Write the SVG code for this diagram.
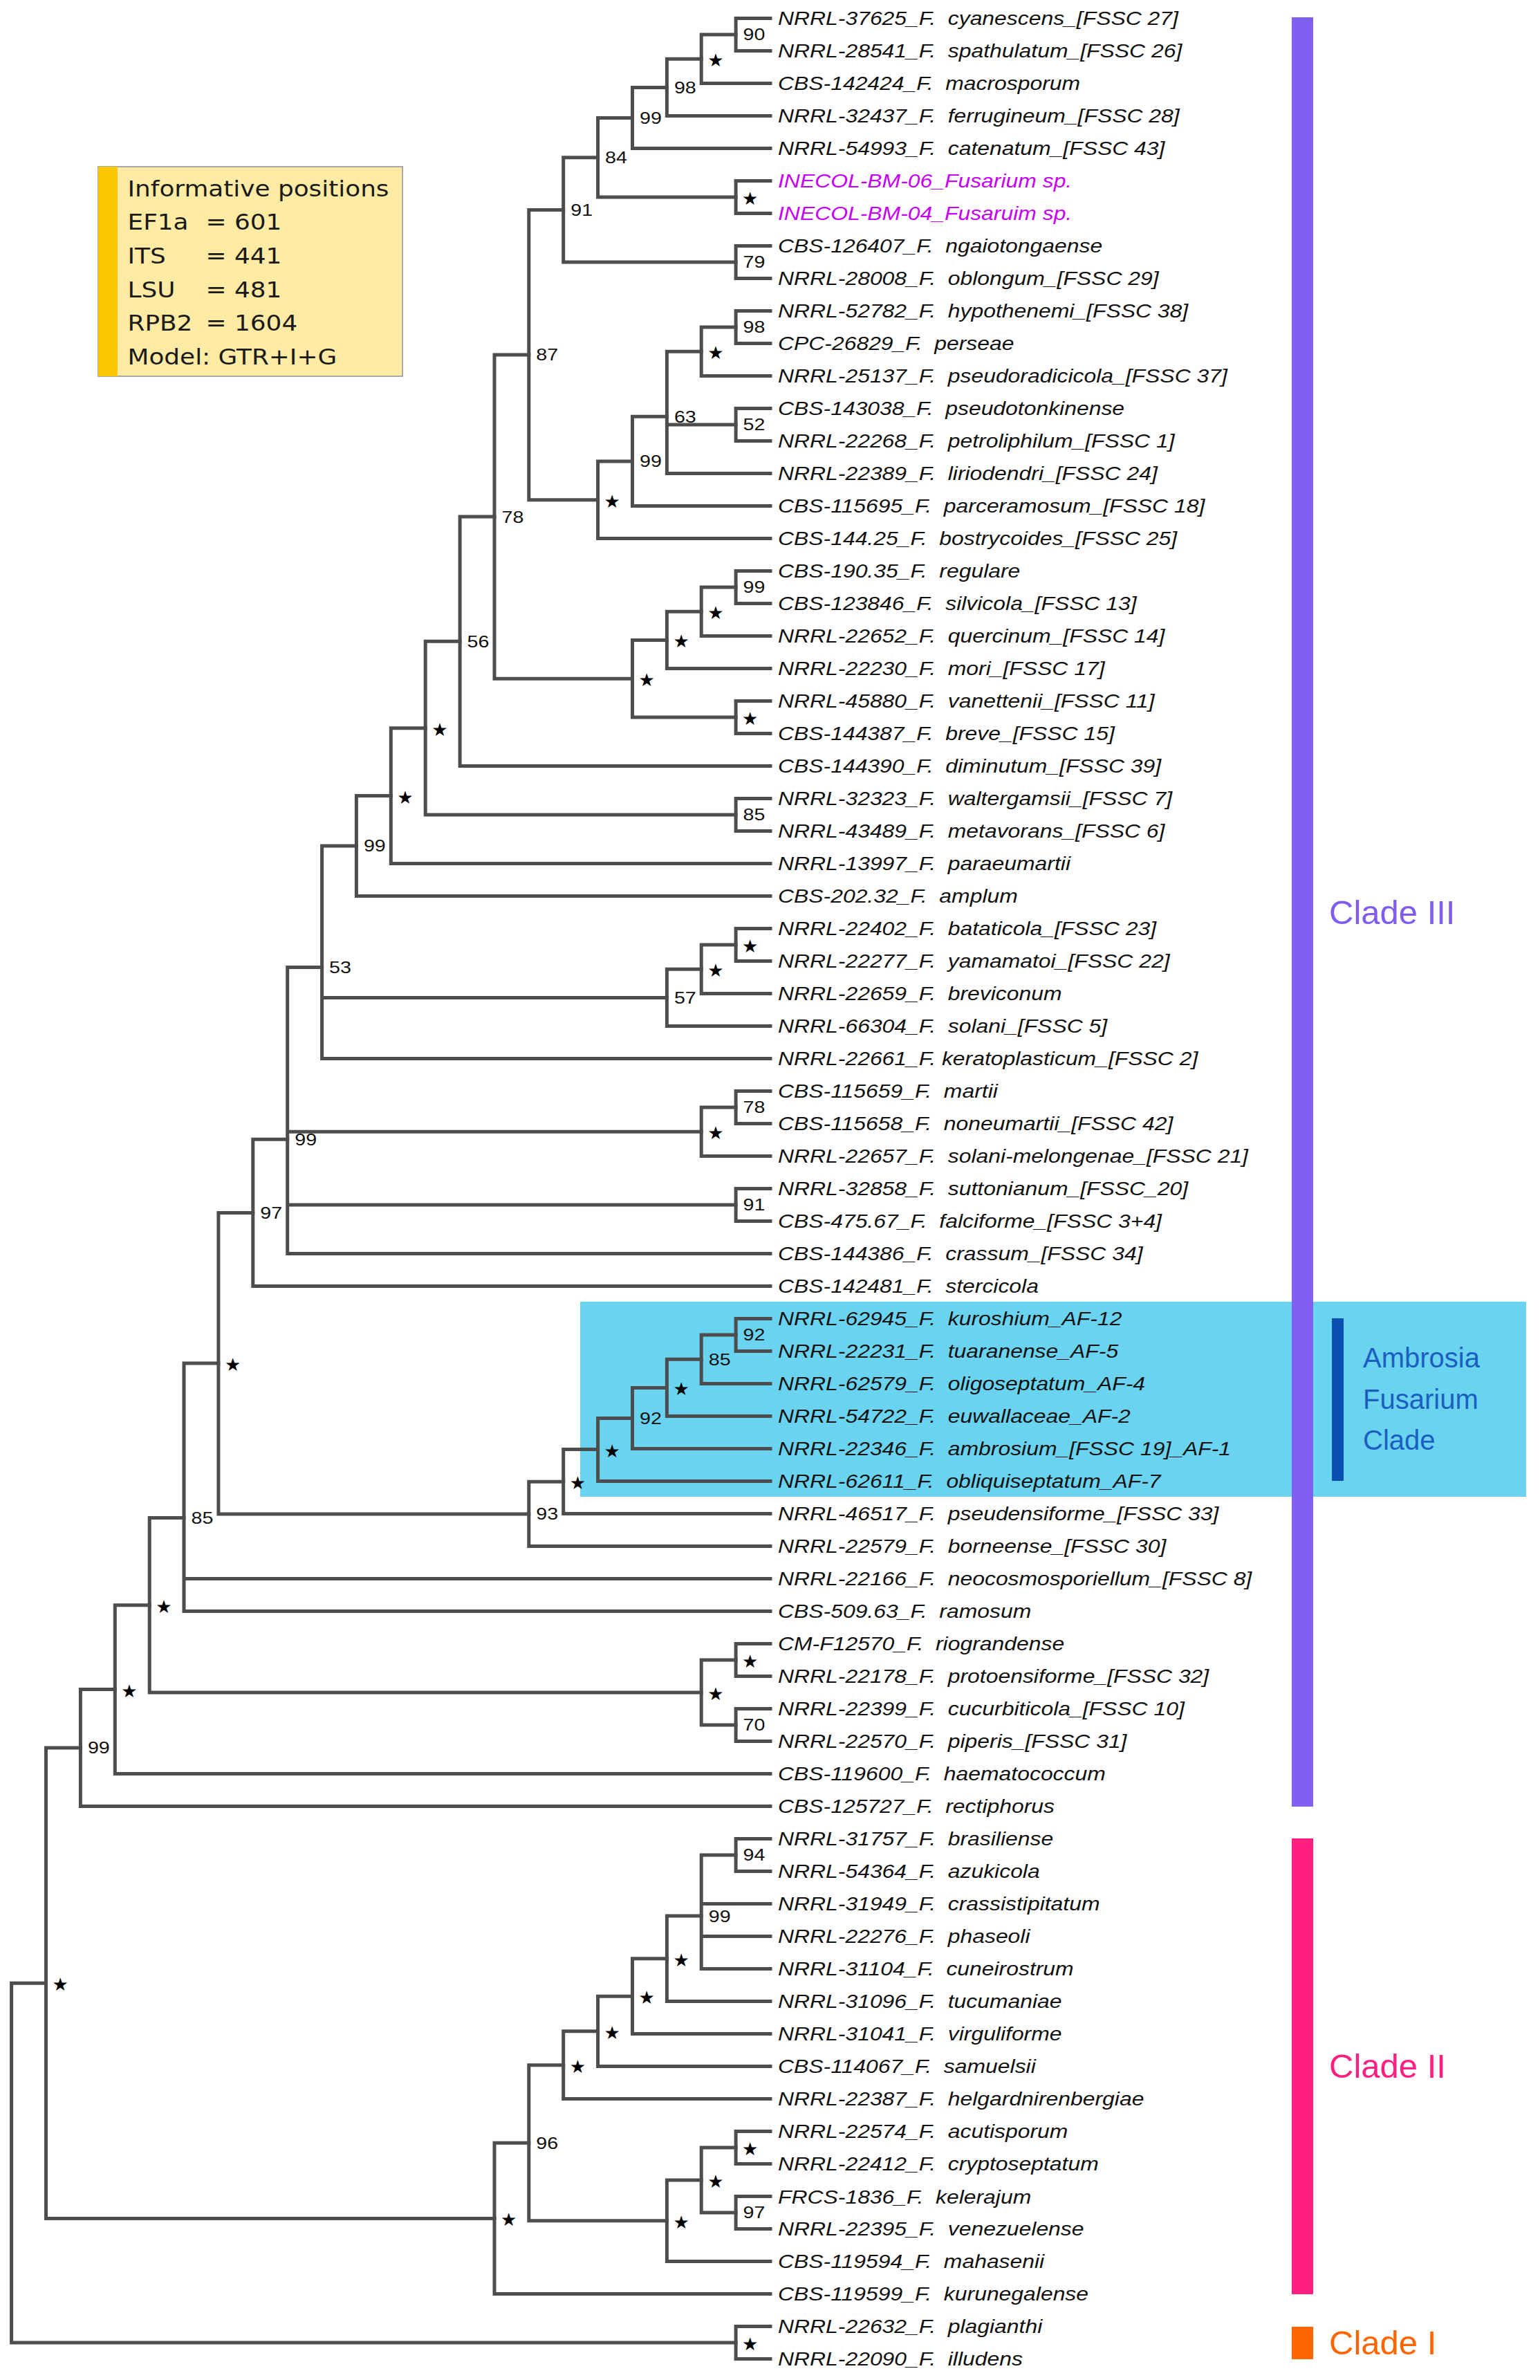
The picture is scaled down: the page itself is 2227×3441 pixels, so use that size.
<svg xmlns="http://www.w3.org/2000/svg" width="2227" height="3441" viewBox="0 0 2227 3441">
<style>
.br{fill:none;stroke:#4d4d4d;stroke-width:5;stroke-linecap:square;stroke-linejoin:miter}
.lf{font-family:"Liberation Sans",Arial,sans-serif;font-style:italic;font-size:27.5px;fill:#111}
.ine{fill:#c600f5}
.bs{font-family:"Liberation Sans",Arial,sans-serif;font-size:23.5px;fill:#111}
.st{font-family:"DejaVu Sans",sans-serif;font-size:26px;fill:#000}
.lg{font-family:"DejaVu Sans",sans-serif;font-size:32px;fill:#1a1a1a}
.cl{font-family:"Liberation Sans",Arial,sans-serif;font-size:49px}
.af{font-family:"Liberation Sans",Arial,sans-serif;font-size:40px;fill:#1a5fc0}
</style>
<rect x="0" y="0" width="2227" height="3441" fill="#ffffff"/>
<g id="ambrosia-highlight">
<rect x="839" y="1882" width="1368" height="282" fill="#6ad3f0"/>
</g>
<g id="legend">
<rect x="142" y="241" width="440" height="303" fill="#ffeba3" stroke="#a8a8a8" stroke-width="2"/>
<rect x="142" y="241" width="28" height="303" fill="#fcc600"/>
<g class="lg" transform="translate(184.5 0) scale(1.12 1)">
<text x="0" y="284">Informative positions</text>
<text x="0" y="332">EF1a</text><text x="101" y="332">= 601</text>
<text x="0" y="381">ITS</text><text x="101" y="381">= 441</text>
<text x="0" y="430">LSU</text><text x="101" y="430">= 481</text>
<text x="0" y="478">RPB2</text><text x="101" y="478">= 1604</text>
<text x="0" y="527">Model: GTR+I+G</text>
</g>
</g>
<g id="connectors" class="br">
<path d="M1114 26.5H1064.1V73.5H1114"/>
<path d="M1064.1 50H1014.2V120.5H1114"/>
<path d="M1014.2 85.25H964.4V167.5H1114"/>
<path d="M964.4 126.4H914.5V214.5H1114"/>
<path d="M1114 261.5H1064.1V308.5H1114"/>
<path d="M914.5 170.4H864.6V285H1064.1"/>
<path d="M1114 355.5H1064.1V402.5H1114"/>
<path d="M864.6 227.7H814.7V379H1064.1"/>
<path d="M1114 449.5H1064.1V496.5H1114"/>
<path d="M1064.1 473H1014.2V543.5H1114"/>
<path d="M1114 590.5H1064.1V637.5H1114"/>
<path d="M1014.2 508.25H964.4V684.5H1114M964.4 614H1064.1"/>
<path d="M964.4 602.25H914.5V731.5H1114"/>
<path d="M914.5 666.9H864.6V778.5H1114"/>
<path d="M814.7 303.4H764.8V722.7H864.6"/>
<path d="M1114 825.5H1064.1V872.5H1114"/>
<path d="M1064.1 849H1014.2V919.5H1114"/>
<path d="M1014.2 884.25H964.4V966.5H1114"/>
<path d="M1114 1013.5H1064.1V1060.5H1114"/>
<path d="M964.4 925.4H914.5V1037H1064.1"/>
<path d="M764.8 513H715V981.2H914.5"/>
<path d="M715 747.1H665.1V1107.5H1114"/>
<path d="M1114 1154.5H1064.1V1201.5H1114"/>
<path d="M665.1 927.3H615.2V1178H1064.1"/>
<path d="M615.2 1052.7H565.3V1248.5H1114"/>
<path d="M565.3 1150.6H515.4V1295.5H1114"/>
<path d="M1114 1342.5H1064.1V1389.5H1114"/>
<path d="M1064.1 1366H1014.2V1436.5H1114"/>
<path d="M1014.2 1401.25H964.4V1483.5H1114"/>
<path d="M515.4 1223H465.6V1530.5H1114M465.6 1442.4H964.4"/>
<path d="M1114 1577.5H1064.1V1624.5H1114"/>
<path d="M1064.1 1601H1014.2V1671.5H1114"/>
<path d="M1114 1718.5H1064.1V1765.5H1114"/>
<path d="M465.6 1398.6H415.7V1812.5H1114M415.7 1636.25H1014.2M415.7 1742H1064.1"/>
<path d="M415.7 1647.3H365.8V1859.5H1114"/>
<path d="M1114 1906.5H1064.1V1953.5H1114"/>
<path d="M1064.1 1930H1014.2V2000.5H1114"/>
<path d="M1014.2 1965.25H964.4V2047.5H1114"/>
<path d="M964.4 2006.4H914.5V2094.5H1114"/>
<path d="M914.5 2050.4H864.6V2141.5H1114"/>
<path d="M864.6 2095.5H814.7V2188.5H1114"/>
<path d="M814.7 2142.2H764.8V2235.5H1114"/>
<path d="M365.8 1753.4H315.9V2188.9H764.8"/>
<path d="M315.9 1971.1H266V2329.5H1114M266 2282.5H1114"/>
<path d="M1114 2376.5H1064.1V2423.5H1114"/>
<path d="M1114 2470.5H1064.1V2517.5H1114"/>
<path d="M1064.1 2400H1014.2V2494H1064.1"/>
<path d="M266 2194.4H216.2V2447H1014.2"/>
<path d="M216.2 2320.7H166.3V2564.5H1114"/>
<path d="M166.3 2442.6H116.4V2611.5H1114"/>
<path d="M1114 2658.5H1064.1V2705.5H1114"/>
<path d="M1064.1 2682H1014.2V2846.5H1114M1014.2 2752.5H1114M1014.2 2799.5H1114"/>
<path d="M1014.2 2770.1H964.4V2893.5H1114"/>
<path d="M964.4 2831.8H914.5V2940.5H1114"/>
<path d="M914.5 2886.2H864.6V2987.5H1114"/>
<path d="M864.6 2936.8H814.7V3034.5H1114"/>
<path d="M1114 3081.5H1064.1V3128.5H1114"/>
<path d="M1114 3175.5H1064.1V3222.5H1114"/>
<path d="M1064.1 3105H1014.2V3199H1064.1"/>
<path d="M1014.2 3152H964.4V3269.5H1114"/>
<path d="M814.7 2985.7H764.8V3210.75H964.4"/>
<path d="M764.8 3098.2H715V3316.5H1114"/>
<path d="M116.4 2527H66.5V3207.4H715"/>
<path d="M1114 3363.5H1064.1V3410.5H1114"/>
<path d="M66.5 2867.2H16.6V3387H1064.1"/>
</g>
<g id="nodes">
<g id="n1"><text class="bs" transform="translate(1074.6 58.4) scale(1.22 1)">90</text></g>
<g id="n2"><text class="st" x="1023.2" y="96.25">★</text></g>
<g id="n3"><text class="bs" transform="translate(974.9 134.8) scale(1.22 1)">98</text></g>
<g id="n4"><text class="bs" transform="translate(925 178.8) scale(1.22 1)">99</text></g>
<g id="n5"><text class="st ine" x="1073.1" y="296">★</text></g>
<g id="n6"><text class="bs" transform="translate(875.1 236.1) scale(1.22 1)">84</text></g>
<g id="n7"><text class="bs" transform="translate(1074.6 387.4) scale(1.22 1)">79</text></g>
<g id="n8"><text class="bs" transform="translate(825.2 311.8) scale(1.22 1)">91</text></g>
<g id="n9"><text class="bs" transform="translate(1074.6 481.4) scale(1.22 1)">98</text></g>
<g id="n10"><text class="st" x="1023.2" y="519.25">★</text></g>
<g id="n11"><text class="bs" transform="translate(1074.6 622.4) scale(1.22 1)">52</text></g>
<g id="n12"><text class="bs" transform="translate(974.9 610.65) scale(1.22 1)">63</text></g>
<g id="n13"><text class="bs" transform="translate(925 675.3) scale(1.22 1)">99</text></g>
<g id="n14"><text class="st" x="873.6" y="733.7">★</text></g>
<g id="n15"><text class="bs" transform="translate(775.3 521.4) scale(1.22 1)">87</text></g>
<g id="n16"><text class="bs" transform="translate(1074.6 857.4) scale(1.22 1)">99</text></g>
<g id="n17"><text class="st" x="1023.2" y="895.25">★</text></g>
<g id="n18"><text class="st" x="973.4" y="936.4">★</text></g>
<g id="n19"><text class="st" x="1073.1" y="1048">★</text></g>
<g id="n20"><text class="st" x="923.5" y="992.2">★</text></g>
<g id="n21"><text class="bs" transform="translate(725.5 755.5) scale(1.22 1)">78</text></g>
<g id="n22"><text class="bs" transform="translate(675.6 935.7) scale(1.22 1)">56</text></g>
<g id="n23"><text class="bs" transform="translate(1074.6 1186.4) scale(1.22 1)">85</text></g>
<g id="n24"><text class="st" x="624.2" y="1063.7">★</text></g>
<g id="n25"><text class="st" x="574.3" y="1161.6">★</text></g>
<g id="n26"><text class="bs" transform="translate(525.9 1231.4) scale(1.22 1)">99</text></g>
<g id="n27"><text class="st" x="1073.1" y="1377">★</text></g>
<g id="n28"><text class="st" x="1023.2" y="1412.25">★</text></g>
<g id="n29"><text class="bs" transform="translate(974.9 1450.8) scale(1.22 1)">57</text></g>
<g id="n30"><text class="bs" transform="translate(476.1 1407) scale(1.22 1)">53</text></g>
<g id="n31"><text class="bs" transform="translate(1074.6 1609.4) scale(1.22 1)">78</text></g>
<g id="n32"><text class="st" x="1023.2" y="1647.25">★</text></g>
<g id="n33"><text class="bs" transform="translate(426.2 1655.7) scale(1.22 1)">99</text></g>
<g id="n34"><text class="bs" transform="translate(1074.6 1750.4) scale(1.22 1)">91</text></g>
<g id="n35"><text class="bs" transform="translate(376.3 1761.8) scale(1.22 1)">97</text></g>
<g id="a1"><text class="bs" transform="translate(1074.6 1938.4) scale(1.22 1)">92</text></g>
<g id="a2"><text class="bs" transform="translate(1024.7 1973.65) scale(1.22 1)">85</text></g>
<g id="a3"><text class="st" x="973.4" y="2017.4">★</text></g>
<g id="a4"><text class="bs" transform="translate(925 2058.8) scale(1.22 1)">92</text></g>
<g id="a5"><text class="st" x="873.6" y="2106.5">★</text></g>
<g id="a6"><text class="st" x="823.7" y="2153.2">★</text></g>
<g id="a7"><text class="bs" transform="translate(775.3 2197.3) scale(1.22 1)">93</text></g>
<g id="n36"><text class="st" x="324.9" y="1982.1">★</text></g>
<g id="n37"><text class="bs" transform="translate(276.5 2202.8) scale(1.22 1)">85</text></g>
<g id="n39a"><text class="st" x="1073.1" y="2411">★</text></g>
<g id="n39b"><text class="bs" transform="translate(1074.6 2502.4) scale(1.22 1)">70</text></g>
<g id="n39"><text class="st" x="1023.2" y="2458">★</text></g>
<g id="n38"><text class="st" x="225.2" y="2331.7">★</text></g>
<g id="n40"><text class="st" x="175.3" y="2453.6">★</text></g>
<g id="n41"><text class="bs" transform="translate(126.9 2535.4) scale(1.22 1)">99</text></g>
<g id="c1"><text class="bs" transform="translate(1074.6 2690.4) scale(1.22 1)">94</text></g>
<g id="c2"><text class="bs" transform="translate(1024.7 2778.5) scale(1.22 1)">99</text></g>
<g id="c3"><text class="st" x="973.4" y="2842.8">★</text></g>
<g id="c4"><text class="st" x="923.5" y="2897.2">★</text></g>
<g id="c5"><text class="st" x="873.6" y="2947.8">★</text></g>
<g id="c6"><text class="st" x="823.7" y="2996.7">★</text></g>
<g id="d1"><text class="st" x="1073.1" y="3116">★</text></g>
<g id="d2"><text class="bs" transform="translate(1074.6 3207.4) scale(1.22 1)">97</text></g>
<g id="d3"><text class="st" x="1023.2" y="3163">★</text></g>
<g id="d4"><text class="st" x="973.4" y="3221.75">★</text></g>
<g id="c7"><text class="bs" transform="translate(775.3 3106.6) scale(1.22 1)">96</text></g>
<g id="c8"><text class="st" x="724" y="3218.4">★</text></g>
<g id="clade23"><text class="st" x="75.5" y="2878.2">★</text></g>
<g id="clade1-node"><text class="st" x="1073.1" y="3398">★</text></g>
</g>
<g id="leaves" class="lf" transform="translate(1125 0) scale(1.16 1)">
<g id="leaf-00"><text y="36.5">NRRL-37625_F.&#160;&#160;cyanescens_[FSSC 27]</text></g>
<g id="leaf-01"><text y="83.5">NRRL-28541_F.&#160;&#160;spathulatum_[FSSC 26]</text></g>
<g id="leaf-02"><text y="130.5">CBS-142424_F.&#160;&#160;macrosporum</text></g>
<g id="leaf-03"><text y="177.5">NRRL-32437_F.&#160;&#160;ferrugineum_[FSSC 28]</text></g>
<g id="leaf-04"><text y="224.5">NRRL-54993_F.&#160;&#160;catenatum_[FSSC 43]</text></g>
<g id="leaf-05"><text class="ine" y="271.5">INECOL-BM-06_Fusarium sp.</text></g>
<g id="leaf-06"><text class="ine" y="318.5">INECOL-BM-04_Fusaruim sp.</text></g>
<g id="leaf-07"><text y="365.5">CBS-126407_F.&#160;&#160;ngaiotongaense</text></g>
<g id="leaf-08"><text y="412.5">NRRL-28008_F.&#160;&#160;oblongum_[FSSC 29]</text></g>
<g id="leaf-09"><text y="459.5">NRRL-52782_F.&#160;&#160;hypothenemi_[FSSC 38]</text></g>
<g id="leaf-10"><text y="506.5">CPC-26829_F.&#160;&#160;perseae</text></g>
<g id="leaf-11"><text y="553.5">NRRL-25137_F.&#160;&#160;pseudoradicicola_[FSSC 37]</text></g>
<g id="leaf-12"><text y="600.5">CBS-143038_F.&#160;&#160;pseudotonkinense</text></g>
<g id="leaf-13"><text y="647.5">NRRL-22268_F.&#160;&#160;petroliphilum_[FSSC 1]</text></g>
<g id="leaf-14"><text y="694.5">NRRL-22389_F.&#160;&#160;liriodendri_[FSSC 24]</text></g>
<g id="leaf-15"><text y="741.5">CBS-115695_F.&#160;&#160;parceramosum_[FSSC 18]</text></g>
<g id="leaf-16"><text y="788.5">CBS-144.25_F.&#160;&#160;bostrycoides_[FSSC 25]</text></g>
<g id="leaf-17"><text y="835.5">CBS-190.35_F.&#160;&#160;regulare</text></g>
<g id="leaf-18"><text y="882.5">CBS-123846_F.&#160;&#160;silvicola_[FSSC 13]</text></g>
<g id="leaf-19"><text y="929.5">NRRL-22652_F.&#160;&#160;quercinum_[FSSC 14]</text></g>
<g id="leaf-20"><text y="976.5">NRRL-22230_F.&#160;&#160;mori_[FSSC 17]</text></g>
<g id="leaf-21"><text y="1023.5">NRRL-45880_F.&#160;&#160;vanettenii_[FSSC 11]</text></g>
<g id="leaf-22"><text y="1070.5">CBS-144387_F.&#160;&#160;breve_[FSSC 15]</text></g>
<g id="leaf-23"><text y="1117.5">CBS-144390_F.&#160;&#160;diminutum_[FSSC 39]</text></g>
<g id="leaf-24"><text y="1164.5">NRRL-32323_F.&#160;&#160;waltergamsii_[FSSC 7]</text></g>
<g id="leaf-25"><text y="1211.5">NRRL-43489_F.&#160;&#160;metavorans_[FSSC 6]</text></g>
<g id="leaf-26"><text y="1258.5">NRRL-13997_F.&#160;&#160;paraeumartii</text></g>
<g id="leaf-27"><text y="1305.5">CBS-202.32_F.&#160;&#160;amplum</text></g>
<g id="leaf-28"><text y="1352.5">NRRL-22402_F.&#160;&#160;bataticola_[FSSC 23]</text></g>
<g id="leaf-29"><text y="1399.5">NRRL-22277_F.&#160;&#160;yamamatoi_[FSSC 22]</text></g>
<g id="leaf-30"><text y="1446.5">NRRL-22659_F.&#160;&#160;breviconum</text></g>
<g id="leaf-31"><text y="1493.5">NRRL-66304_F.&#160;&#160;solani_[FSSC 5]</text></g>
<g id="leaf-32"><text y="1540.5">NRRL-22661_F. keratoplasticum_[FSSC 2]</text></g>
<g id="leaf-33"><text y="1587.5">CBS-115659_F.&#160;&#160;martii</text></g>
<g id="leaf-34"><text y="1634.5">CBS-115658_F.&#160;&#160;noneumartii_[FSSC 42]</text></g>
<g id="leaf-35"><text y="1681.5">NRRL-22657_F.&#160;&#160;solani-melongenae_[FSSC 21]</text></g>
<g id="leaf-36"><text y="1728.5">NRRL-32858_F.&#160;&#160;suttonianum_[FSSC_20]</text></g>
<g id="leaf-37"><text y="1775.5">CBS-475.67_F.&#160;&#160;falciforme_[FSSC 3+4]</text></g>
<g id="leaf-38"><text y="1822.5">CBS-144386_F.&#160;&#160;crassum_[FSSC 34]</text></g>
<g id="leaf-39"><text y="1869.5">CBS-142481_F.&#160;&#160;stercicola</text></g>
<g id="leaf-40"><text y="1916.5">NRRL-62945_F.&#160;&#160;kuroshium_AF-12</text></g>
<g id="leaf-41"><text y="1963.5">NRRL-22231_F.&#160;&#160;tuaranense_AF-5</text></g>
<g id="leaf-42"><text y="2010.5">NRRL-62579_F.&#160;&#160;oligoseptatum_AF-4</text></g>
<g id="leaf-43"><text y="2057.5">NRRL-54722_F.&#160;&#160;euwallaceae_AF-2</text></g>
<g id="leaf-44"><text y="2104.5">NRRL-22346_F.&#160;&#160;ambrosium_[FSSC 19]_AF-1</text></g>
<g id="leaf-45"><text y="2151.5">NRRL-62611_F.&#160;&#160;obliquiseptatum_AF-7</text></g>
<g id="leaf-46"><text y="2198.5">NRRL-46517_F.&#160;&#160;pseudensiforme_[FSSC 33]</text></g>
<g id="leaf-47"><text y="2245.5">NRRL-22579_F.&#160;&#160;borneense_[FSSC 30]</text></g>
<g id="leaf-48"><text y="2292.5">NRRL-22166_F.&#160;&#160;neocosmosporiellum_[FSSC 8]</text></g>
<g id="leaf-49"><text y="2339.5">CBS-509.63_F.&#160;&#160;ramosum</text></g>
<g id="leaf-50"><text y="2386.5">CM-F12570_F.&#160;&#160;riograndense</text></g>
<g id="leaf-51"><text y="2433.5">NRRL-22178_F.&#160;&#160;protoensiforme_[FSSC 32]</text></g>
<g id="leaf-52"><text y="2480.5">NRRL-22399_F.&#160;&#160;cucurbiticola_[FSSC 10]</text></g>
<g id="leaf-53"><text y="2527.5">NRRL-22570_F.&#160;&#160;piperis_[FSSC 31]</text></g>
<g id="leaf-54"><text y="2574.5">CBS-119600_F.&#160;&#160;haematococcum</text></g>
<g id="leaf-55"><text y="2621.5">CBS-125727_F.&#160;&#160;rectiphorus</text></g>
<g id="leaf-56"><text y="2668.5">NRRL-31757_F.&#160;&#160;brasiliense</text></g>
<g id="leaf-57"><text y="2715.5">NRRL-54364_F.&#160;&#160;azukicola</text></g>
<g id="leaf-58"><text y="2762.5">NRRL-31949_F.&#160;&#160;crassistipitatum</text></g>
<g id="leaf-59"><text y="2809.5">NRRL-22276_F.&#160;&#160;phaseoli</text></g>
<g id="leaf-60"><text y="2856.5">NRRL-31104_F.&#160;&#160;cuneirostrum</text></g>
<g id="leaf-61"><text y="2903.5">NRRL-31096_F.&#160;&#160;tucumaniae</text></g>
<g id="leaf-62"><text y="2950.5">NRRL-31041_F.&#160;&#160;virguliforme</text></g>
<g id="leaf-63"><text y="2997.5">CBS-114067_F.&#160;&#160;samuelsii</text></g>
<g id="leaf-64"><text y="3044.5">NRRL-22387_F.&#160;&#160;helgardnirenbergiae</text></g>
<g id="leaf-65"><text y="3091.5">NRRL-22574_F.&#160;&#160;acutisporum</text></g>
<g id="leaf-66"><text y="3138.5">NRRL-22412_F.&#160;&#160;cryptoseptatum</text></g>
<g id="leaf-67"><text y="3185.5">FRCS-1836_F.&#160;&#160;kelerajum</text></g>
<g id="leaf-68"><text y="3232.5">NRRL-22395_F.&#160;&#160;venezuelense</text></g>
<g id="leaf-69"><text y="3279.5">CBS-119594_F.&#160;&#160;mahasenii</text></g>
<g id="leaf-70"><text y="3326.5">CBS-119599_F.&#160;&#160;kurunegalense</text></g>
<g id="leaf-71"><text y="3373.5">NRRL-22632_F.&#160;&#160;plagianthi</text></g>
<g id="leaf-72"><text y="3420.5">NRRL-22090_F.&#160;&#160;illudens</text></g>
</g>
<g id="clade-bars">
<g id="clade-III"><rect x="1868" y="25" width="31" height="2587" fill="#8060f0"/><text class="cl" x="1922" y="1336" fill="#7f5cee">Clade III</text></g>
<g id="clade-II"><rect x="1868" y="2658" width="31" height="659" fill="#ff2080"/><text class="cl" x="1922" y="3004" fill="#ff2080">Clade II</text></g>
<g id="clade-I"><rect x="1868" y="3364" width="31" height="47" fill="#ff6600"/><text class="cl" x="1922" y="3404" fill="#ff6600">Clade I</text></g>
<g id="ambrosia-label"><rect x="1926" y="1906" width="17" height="235" fill="#0a4fb0"/><text class="af" x="1971" y="1977">Ambrosia</text><text class="af" x="1971" y="2037">Fusarium</text><text class="af" x="1971" y="2096">Clade</text></g>
</g>
</svg>
